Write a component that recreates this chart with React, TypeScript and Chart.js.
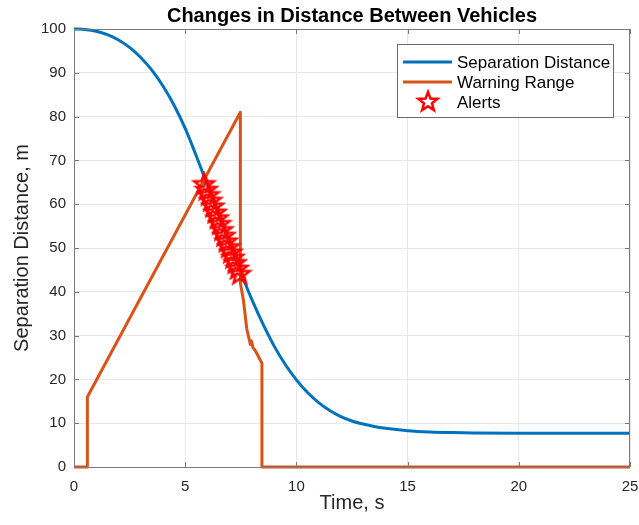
import React, { useEffect, useRef } from 'react';
import { Chart, registerables } from 'chart.js';

Chart.register(...registerables);

const chartTitle = 'Changes in Distance Between Vehicles';
const xAxisTitle = 'Time, s';
const yAxisTitle = 'Separation Distance, m';
const seriesNames = ['Separation Distance', 'Warning Range', 'Alerts'];

const xTicks = [0, 5, 10, 15, 20, 25];
const yTicks = [0, 10, 20, 30, 40, 50, 60, 70, 80, 90, 100];

const separationTime = [0, 0.5, 1, 1.5, 2, 2.5, 3, 3.5, 4, 4.5, 5, 5.5, 6, 6.5, 7, 7.5, 8, 8.5, 9, 9.5, 10, 10.5, 11, 11.5, 12, 12.5, 13, 13.5, 14, 15, 16, 17, 18, 20, 25];
const separationDistance = [100, 99.9, 99.5, 98.7, 97.5, 95.8, 93.5, 90.6, 87.0, 82.6, 77.3, 71.0, 64.3, 57.6, 50.9, 44.4, 38.2, 32.6, 27.6, 23.4, 19.9, 17.0, 14.7, 12.9, 11.5, 10.5, 9.8, 9.25, 8.85, 8.3, 8.0, 7.85, 7.77, 7.72, 7.7];

const warningTime = [0, 0.6, 0.6, 7.48, 7.48, 7.55, 7.62, 7.77, 7.93, 7.98, 8.05, 8.15, 8.45, 8.45, 25];
const warningRange = [0, 0, 16, 81, 42, 40, 38, 31.5, 28.0, 28.8, 27.2, 26.6, 23.7, 0, 0];

const alertTime = [5.85, 5.95, 6.05, 6.15, 6.25, 6.35, 6.45, 6.55, 6.65, 6.75, 6.85, 6.95, 7.05, 7.15, 7.25, 7.35, 7.45];
const alertDistance = [64.5, 63.2, 62.0, 60.7, 59.4, 58.0, 56.7, 55.4, 54.0, 52.7, 51.4, 50.1, 48.9, 47.7, 46.5, 45.2, 44.0];

const FONT = '"Liberation Sans", Arial, Helvetica, sans-serif';
const BLUE = '#0072BD';
const ORANGE = '#D95319';
const RED = '#FF0000';
const CANVAS_W = 643;

function makeStar(size: number, r: number, lw: number): HTMLCanvasElement {
  const c = document.createElement('canvas');
  c.width = size;
  c.height = size;
  const ctx = c.getContext('2d')!;
  ctx.beginPath();
  for (let i = 0; i < 10; i++) {
    const rad = i % 2 === 0 ? r : r * 0.42;
    const a = -Math.PI / 2 + (i * Math.PI) / 5;
    ctx.lineTo(size / 2 + rad * Math.cos(a), size / 2 + rad * Math.sin(a));
  }
  ctx.closePath();
  ctx.strokeStyle = RED;
  ctx.lineWidth = lw;
  ctx.lineJoin = 'miter';
  ctx.stroke();
  return c;
}

export default function App() {
  const ref = useRef<HTMLCanvasElement | null>(null);

  useEffect(() => {
    if (!ref.current) return;
    const star = makeStar(26, 10.5, 2.5);
    const legendStar = makeStar(26, 10, 2.5);

    const framePlugin = {
      id: 'frame',
      afterDraw(chart: any) {
        const { ctx, chartArea: a, scales } = chart;
        ctx.save();
        ctx.strokeStyle = '#7a7a7a';
        ctx.lineWidth = 1;
        ctx.strokeRect(a.left + 0.5, a.top + 0.5, a.right - a.left - 1, a.bottom - a.top);
        ctx.beginPath();
        xTicks.forEach((v) => {
          const px = Math.round(scales.x.getPixelForValue(v)) + 0.5;
          ctx.moveTo(px, a.bottom);
          ctx.lineTo(px, a.bottom - 5);
          ctx.moveTo(px, a.top);
          ctx.lineTo(px, a.top + 5);
        });
        yTicks.forEach((v) => {
          const py = Math.round(scales.y.getPixelForValue(v)) + 0.5;
          ctx.moveTo(a.left, py);
          ctx.lineTo(a.left + 5, py);
          ctx.moveTo(a.right, py);
          ctx.lineTo(a.right - 5, py);
        });
        ctx.stroke();

        ctx.fillStyle = '#000';
        ctx.font = `bold 20px ${FONT}`;
        ctx.textAlign = 'center';
        ctx.textBaseline = 'middle';
        ctx.fillText(chartTitle, (a.left + a.right) / 2, 16);

        const lx = 397, ly = 44, lw = 216, lh = 73;
        ctx.fillStyle = '#fff';
        ctx.fillRect(lx, ly, lw, lh);
        ctx.lineWidth = 1;
        ctx.strokeStyle = '#6a6a6a';
        ctx.strokeRect(lx + 0.5, ly + 0.5, lw, lh);
        const rows = [62, 82, 102];
        ctx.lineWidth = 3;
        ctx.strokeStyle = BLUE;
        ctx.beginPath();
        ctx.moveTo(403, rows[0]);
        ctx.lineTo(452, rows[0]);
        ctx.stroke();
        ctx.strokeStyle = ORANGE;
        ctx.beginPath();
        ctx.moveTo(403, rows[1]);
        ctx.lineTo(452, rows[1]);
        ctx.stroke();
        ctx.drawImage(legendStar, 428 - 13, rows[2] - 13);
        ctx.fillStyle = '#000';
        ctx.font = `17px ${FONT}`;
        ctx.textAlign = 'left';
        ctx.textBaseline = 'middle';
        seriesNames.forEach((n, i) => ctx.fillText(n, 457, rows[i] + 1));
        ctx.restore();
      },
    };

    const chart = new Chart(ref.current, {
      type: 'line',
      data: {
        datasets: [
          {
            label: seriesNames[0],
            data: separationTime.map((t, i) => ({ x: t, y: separationDistance[i] })),
            borderColor: BLUE,
            backgroundColor: BLUE,
            borderWidth: 3,
            pointRadius: 0,
            cubicInterpolationMode: 'monotone',
            clip: false as any,
            order: 3,
          },
          {
            label: seriesNames[1],
            data: warningTime.map((t, i) => ({ x: t, y: warningRange[i] })),
            borderColor: ORANGE,
            backgroundColor: ORANGE,
            borderWidth: 3,
            pointRadius: 0,
            tension: 0,
            borderJoinStyle: 'round',
            clip: false as any,
            order: 2,
          },
          {
            label: seriesNames[2],
            data: alertTime.map((t, i) => ({ x: t, y: alertDistance[i] })),
            showLine: false,
            pointStyle: star as any,
            pointRadius: 12,
            borderColor: RED,
            backgroundColor: RED,
            order: 1,
          },
        ],
      },
      options: {
        responsive: false,
        animation: false,
        layout: { padding: { top: 29, right: 0, left: 0, bottom: 0 } },
        plugins: {
          legend: { display: false },
          title: { display: false },
          tooltip: { enabled: false },
        },
        scales: {
          x: {
            type: 'linear',
            min: 0,
            max: 25,
            afterFit: (s: any) => {
              s.height = 58;
              s.paddingRight = 5;
              s.paddingLeft = 0;
            },
            afterBuildTicks: (s: any) => {
              s.ticks = xTicks.map((v) => ({ value: v }));
            },
            grid: { color: '#e8e8e8', drawTicks: false, lineWidth: 1 },
            border: { display: false },
            ticks: {
              color: '#262626',
              font: { family: FONT, size: 15 },
              padding: 11,
              maxRotation: 0,
            },
            title: {
              display: true,
              text: xAxisTitle,
              color: '#262626',
              font: { family: FONT, size: 20 },
              padding: { top: 0, bottom: 10 },
            },
          },
          y: {
            type: 'linear',
            min: 0,
            max: 100,
            afterFit: (s: any) => {
              s.width = 74;
              s.paddingTop = 0;
              s.paddingBottom = 0;
            },
            afterBuildTicks: (s: any) => {
              s.ticks = yTicks.map((v) => ({ value: v }));
            },
            grid: { color: '#e8e8e8', drawTicks: false, lineWidth: 1 },
            border: { display: false },
            ticks: {
              color: '#262626',
              font: { family: FONT, size: 15 },
              padding: 8,
            },
            title: {
              display: true,
              text: yAxisTitle,
              color: '#262626',
              font: { family: FONT, size: 20 },
              padding: { top: 10, bottom: 0 },
            },
          },
        },
      },
      plugins: [framePlugin],
    } as any);
    return () => chart.destroy();
  }, []);

  return (
    <div style={{ position: 'absolute', left: 0, top: 0, width: 639, height: 525, overflow: 'hidden', background: '#fff' }}>
      <canvas ref={ref} width={CANVAS_W} height={525} style={{ display: 'block', width: CANVAS_W, height: 525 }} />
    </div>
  );
}
